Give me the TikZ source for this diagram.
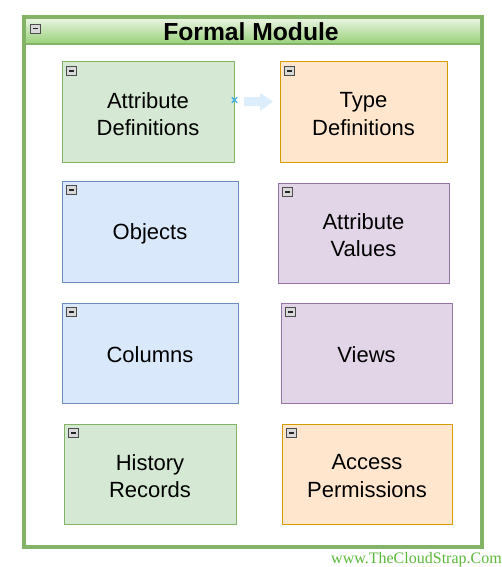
\documentclass[tikz,border=0pt]{standalone}
\usepackage{fontspec}
\setmainfont{Liberation Sans}
\newfontfamily\wmfont{Liberation Serif}
\definecolor{gfill}{HTML}{D5E8D4}\definecolor{gline}{HTML}{82B366}
\definecolor{ofill}{HTML}{FFE6CC}\definecolor{oline}{HTML}{D79B00}
\definecolor{bfill}{HTML}{DAE8FC}\definecolor{bline}{HTML}{6C8EBF}
\definecolor{pfill}{HTML}{E1D5E7}\definecolor{pline}{HTML}{9673A6}
\definecolor{hdtop}{HTML}{EEF6E8}\definecolor{hdbot}{HTML}{97D077}
\definecolor{arrowc}{HTML}{DCEEFB}\definecolor{wmc}{HTML}{5CB83A}
\definecolor{xmc}{HTML}{3AAFE8}
\tikzset{
  x=0.75pt,y=-0.75pt,
  box/.style={draw, line width=0.75pt, inner sep=0pt},
  boxtext/.style={align=center, inner sep=0pt, font=\fontsize{16.5}{20.5}\selectfont},
  gbox/.style={box, fill=gfill, draw=gline},
  obox/.style={box, fill=ofill, draw=oline},
  bbox/.style={box, fill=bfill, draw=bline},
  pbox/.style={box, fill=pfill, draw=pline},
  minusicon/.pic={
    \draw[gray!60!black, fill=gray!30, line width=0.5pt] (0,0) rectangle (10,9);
    \draw[black!85, line width=1.1pt] (2.5,4.5) -- (7.5,4.5);
  }
}
\newcommand{\mybox}[6]{%
  \node[#1, minimum width=#4*0.75pt, minimum height=#5*0.75pt] (#2) at (#3) {};
  \node[boxtext] (#2t) at ([yshift=-1.5pt]#2.center) {#6};
}
\begin{document}
\begin{tikzpicture}
\useasboundingbox (0,0) rectangle (502,567);
% container
\node[fill=white, minimum width=456*0.75pt, minimum height=502*0.75pt, inner sep=0pt] (cont) at (253,295) {};
\shade[top color=hdtop, bottom color=hdbot] (24,17) rectangle (482,44);
\draw[gline, line width=1.5pt] (24,44) -- (482,44);
\draw[gline, line width=2.7pt] (24,17) rectangle (482,547);
\node[font=\fontsize{18.5}{20}\selectfont\bfseries] (title) at (251,32) {Formal Module};
\pic at (30,24) {minusicon};
% boxes
\mybox{gbox}{ad}{148,112}{172}{100}{Attribute\\Definitions}
\mybox{obox}{td}{363.5,112}{167}{100}{Type\\Definitions}
\mybox{bbox}{ob}{150,231.5}{176}{101}{Objects}
\mybox{pbox}{av}{363.5,233}{171}{100}{Attribute\\Values}
\mybox{bbox}{co}{150,353}{176}{100}{Columns}
\mybox{pbox}{vi}{366.5,353}{171}{100}{Views}
\mybox{gbox}{hr}{150,474}{172}{100}{History\\Records}
\mybox{obox}{ap}{367,474}{170}{100}{Access\\Permissions}
\foreach \n in {ad,td,ob,av,co,vi,hr,ap}{
  \pic at ([xshift=5*0.75pt,yshift=-5*0.75pt]\n.north west) {minusicon};
}
% arrow
\coordinate (xm) at ([yshift=9pt]ad.east);
\fill[arrowc] (244,97) -- (260,97) -- (260,93) -- (273,101.5) -- (260,111) -- (260,106) -- (244,106) -- cycle;
\draw[xmc, line width=0.8pt] ([xshift=-2pt,yshift=-2pt]xm) -- ([xshift=2pt,yshift=2pt]xm)
  ([xshift=-2pt,yshift=2pt]xm) -- ([xshift=2pt,yshift=-2pt]xm);
% watermark
\node[anchor=east, text=wmc, font=\wmfont\fontsize{12}{14}\selectfont, inner sep=0pt] (wm) at (502,560) {www.TheCloudStrap.Com};
\end{tikzpicture}
\end{document}
